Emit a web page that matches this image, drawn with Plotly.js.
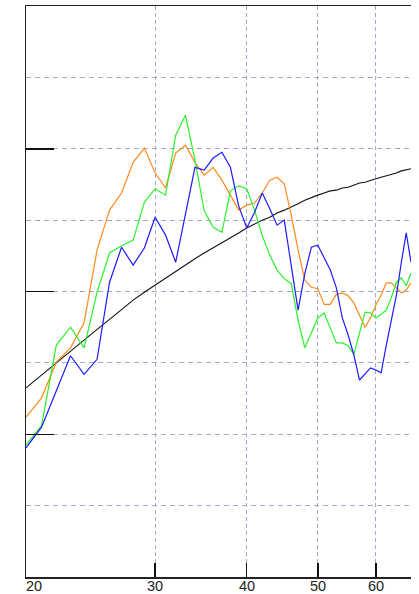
<!DOCTYPE html>
<html>
<head>
<meta charset="utf-8">
<script src="https://cdn.plot.ly/plotly-3.0.1.min.js"></script>
<style>
  html, body { margin: 0; padding: 0; background: #fff; }
  #chart { width: 419px; height: 594px; }
</style>
</head>
<body>
<div id="chart"></div>
<script>
// Age (log axis) and the four series plotted against it
const ages = [20,21,22,23,24,25,26,27,28,29,30,31,32,33,34,35,36,37,38,39,40,41,42,43,
              44,45,46,47,48,49,50,51,52,53,54,55,56,57,58,59,60,61,62,63,64,65,66,67];

const trend = [2.65,2.83,3.00,3.17,3.33,3.47,3.61,3.75,3.88,3.99,4.09,4.19,4.29,4.37,4.46,4.54,
               4.61,4.68,4.75,4.82,4.89,4.95,5.00,5.04,5.10,5.14,5.18,5.23,5.28,5.32,5.35,5.38,
               5.41,5.42,5.45,5.46,5.49,5.52,5.53,5.56,5.58,5.60,5.62,5.65,5.66,5.69,5.70,5.72];

const orangeSeries = [2.24,2.51,3.01,3.21,3.56,4.58,5.14,5.38,5.81,6.01,5.66,5.45,5.94,6.05,5.81,5.63,
                      5.74,5.56,5.35,5.14,5.21,5.24,5.38,5.56,5.60,5.51,5.07,4.58,4.16,4.06,4.04,3.82,
                      3.82,3.96,3.98,3.94,3.84,3.67,3.50,3.63,3.81,3.95,4.12,4.12,4.05,3.98,4.02,4.12];

const greenSeries = [1.85,2.12,3.25,3.50,3.21,3.99,4.54,4.64,4.72,5.25,5.44,5.35,6.19,6.47,5.84,5.13,
                     4.90,4.83,5.41,5.48,5.44,5.14,4.78,4.51,4.30,4.18,4.11,3.60,3.21,3.43,3.63,3.70,
                     3.49,3.28,3.28,3.24,3.12,3.42,3.71,3.70,3.63,3.68,3.74,3.92,4.13,4.19,4.08,4.26];

const blueSeries = [1.81,2.10,2.61,3.10,2.84,3.05,4.13,4.62,4.37,4.61,5.04,4.79,4.41,5.10,5.74,5.70,
                    5.87,5.95,5.74,5.20,4.89,5.11,5.38,5.16,4.93,5.00,4.37,3.74,4.25,4.62,4.65,4.47,
                    4.30,4.05,3.63,3.39,3.11,2.76,2.84,2.93,2.90,2.86,3.25,3.60,3.95,4.41,4.82,4.41];

// x-axis labels; the first one sits on the left edge of the axis
const xLabelVals = [20, 30, 40, 50, 60];
const xLabelText = ['20', '30', '40', '50', '60'];
const xStart = 20, xEnd = 67;

const gridColor = '#9eabc9';
const tickFont = { family: 'Liberation Sans, Arial, sans-serif', size: 14.5, color: '#222' };

function series(y, color, width) {
  return { x: ages, y: y, type: 'scatter', mode: 'lines',
           line: { color: color, width: width }, hoverinfo: 'skip' };
}

const traces = [
  series(trend, '#111111', 1.1),
  series(orangeSeries, '#ff8a1c', 1.2),
  series(greenSeries, '#2cf02c', 1.2),
  series(blueSeries, '#1c1cff', 1.2)
];

// tick labels drawn as annotations so they sit tight under the axis
const labelAnnotations = xLabelVals.map((v, i) => ({
  x: Math.log10(v), y: 0, xref: 'x', yref: 'paper',
  text: xLabelText[i], showarrow: false,
  xanchor: v === xStart ? 'left' : 'center', yanchor: 'top',
  xshift: v === xStart ? -1 : 0, yshift: 0, borderpad: 0,
  font: tickFont
}));

const layout = {
  width: 419, height: 594,
  margin: { l: 26, r: 8, t: 6, b: 17 },
  paper_bgcolor: '#fff', plot_bgcolor: '#fff',
  showlegend: false,
  xaxis: {
    type: 'log',
    range: [Math.log10(xStart), Math.log10(xEnd)],
    tickmode: 'array', tickvals: xLabelVals.slice(1),
    ticks: 'inside', ticklen: 14, tickwidth: 1.5, tickcolor: '#111',
    showticklabels: false,
    showgrid: true, gridcolor: gridColor, gridwidth: 1, griddash: '4px,3px',
    showline: true, linecolor: '#222', linewidth: 1.5, mirror: true,
    zeroline: false, automargin: false, fixedrange: true
  },
  yaxis: {
    range: [0, 8],
    tickmode: 'array', tickvals: [2, 4, 6],
    ticks: 'inside', ticklen: 28, tickwidth: 1.5, tickcolor: '#111',
    showticklabels: false,
    showgrid: true, gridcolor: gridColor, gridwidth: 1, griddash: '5px,4px',
    minor: { tickmode: 'linear', tick0: 0, dtick: 1, ticks: '', showgrid: true,
             gridcolor: gridColor, gridwidth: 1, griddash: '5px,4px' },
    showline: true, linecolor: '#222', linewidth: 1.5,
    zeroline: false, automargin: false, fixedrange: true
  },
  annotations: labelAnnotations
};

Plotly.newPlot('chart', traces, layout, { staticPlot: true, displayModeBar: false });
</script>
</body>
</html>
